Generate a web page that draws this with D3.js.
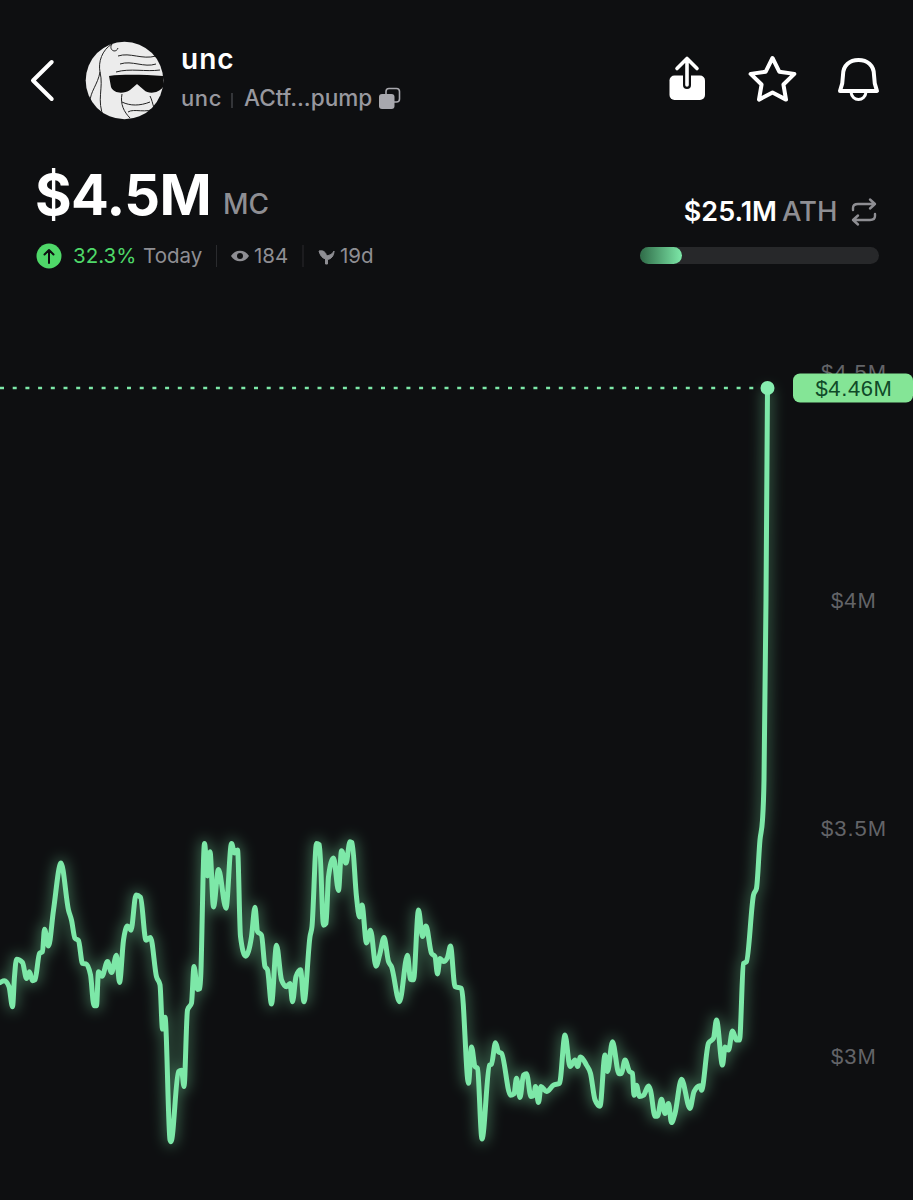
<!DOCTYPE html>
<html>
<head>
<meta charset="utf-8">
<title>unc</title>
<script src="https://cdn.jsdelivr.net/npm/d3@7"></script>
<style>
html, body { margin: 0; padding: 0; background: #0e0f11; }
svg { display: block; }
.ui { font-family: Inter, "Open Sans", sans-serif; }
.tick text { font-family: "Liberation Sans", Arial, sans-serif; letter-spacing: 1px; }
</style>
</head>
<body>
<svg id="chart" width="913" height="1200"></svg>
<script>
// minutes since the left edge of the chart
const minutes = [0,9,18,25,29,33,45,53,59,65,70,79,85,89,97,107,122,137,143,150,157,165,172,181,188,193,197,204,215,223,233,239,247,255,262,272,281,292,301,313,320,325,330,340,342,357,363,368,375,383,388,395,400,409,415,420,427,437,452,463,469,475,481,491,503,510,515,523,530,535,543,553,563,573,580,585,592,601,608,620,624,633,639,647,652,657,667,677,683,692,700,704,713,719,724,733,741,752,760,768,777,783,799,815,821,827,837,845,852,863,870,875,880,887,895,901,910,923,937,943,950,955,964,979,983,991,997,1003,1021,1028,1033,1040,1047,1053,1062,1068,1071,1077,1082,1093,1107,1119,1130,1140,1150,1155,1161,1173,1181,1190,1200,1210,1215,1225,1238,1243,1250,1259,1265,1268,1273,1279,1287,1297,1301,1310,1315,1323,1330,1337,1343,1350,1363,1380,1388,1400,1403,1417,1427,1433,1445,1450,1457,1465,1473,1479,1487,1493,1507,1513,1520,1525,1528,1532,1535];

// market cap in $M
const marketCap = [3.161,3.165,3.152,3.108,3.174,3.212,3.205,3.170,3.185,3.165,3.167,3.225,3.229,3.278,3.241,3.320,3.423,3.320,3.298,3.258,3.253,3.203,3.202,3.178,3.110,3.110,3.185,3.175,3.207,3.183,3.221,3.161,3.254,3.285,3.276,3.353,3.348,3.254,3.260,3.174,3.156,3.059,3.085,2.816,2.812,2.966,2.969,2.933,3.101,3.116,3.196,3.146,3.148,3.466,3.395,3.448,3.327,3.409,3.324,3.466,3.445,3.452,3.262,3.219,3.262,3.326,3.273,3.265,3.196,3.189,3.114,3.243,3.167,3.152,3.159,3.119,3.174,3.189,3.119,3.262,3.284,3.466,3.463,3.287,3.291,3.393,3.434,3.363,3.450,3.423,3.470,3.468,3.349,3.305,3.331,3.248,3.276,3.197,3.225,3.260,3.207,3.196,3.119,3.221,3.168,3.167,3.320,3.262,3.285,3.225,3.218,3.180,3.214,3.207,3.216,3.241,3.152,3.148,2.940,3.020,2.977,2.973,2.818,2.980,2.982,3.029,3.009,3.006,2.914,2.917,2.951,2.909,2.958,2.961,2.911,2.914,2.933,2.898,2.933,2.922,2.936,2.940,3.046,2.977,2.991,2.977,2.998,2.980,2.962,2.904,2.890,3.002,2.966,3.031,2.961,2.962,2.991,2.966,2.962,2.914,2.936,2.911,2.914,2.934,2.925,2.868,2.868,2.905,2.874,2.896,2.854,2.874,2.949,2.885,2.922,2.935,2.925,3.028,3.039,3.079,2.980,3.020,3.013,3.055,3.035,3.035,3.203,3.207,3.353,3.368,3.474,3.518,3.605,4.000,4.465];

const yTicks = [3, 3.5, 4, 4.5];
const currentLabel = "$4.46M";

const GREEN = "#7de8a8";
const GREY = "#8e8e93";

const svg = d3.select("#chart");
const defs = svg.append("defs");

defs.append("filter").attr("id", "glow")
    .attr("filterUnits", "userSpaceOnUse")
    .attr("x", -40).attr("y", 340).attr("width", 993).attr("height", 860)
    .append("feGaussianBlur").attr("stdDeviation", 7);

const barFill = defs.append("linearGradient").attr("id", "barFill");
barFill.append("stop").attr("offset", "0%").attr("stop-color", "#2f6b48");
barFill.append("stop").attr("offset", "100%").attr("stop-color", "#7de8a8");

defs.append("clipPath").attr("id", "avatarClip")
    .append("circle").attr("cx", 124.5).attr("cy", 80.5).attr("r", 38.8);

defs.append("filter").attr("id", "soft").append("feGaussianBlur").attr("stdDeviation", 0.5);

svg.append("rect").attr("width", 913).attr("height", 1200).attr("fill", "#0e0f11");

// chart
const x = d3.scaleLinear().domain([0, 1535]).range([0, 767.5]);
const y = d3.scaleLinear().domain([3, 4.5]).range([1056, 372]);

const yAxis = d3.axisRight(y)
    .tickValues(yTicks)
    .tickSize(0)
    .tickFormat(d => `$${d}M`);

const axisG = svg.append("g")
    .attr("transform", "translate(854,0)")
    .call(yAxis);
axisG.select(".domain").remove();
axisG.selectAll("text")
    .attr("x", 0)
    .attr("text-anchor", "middle")
    .attr("font-size", 22)
    .attr("fill", "#636468");

const points = minutes.map((m, i) => [m, marketCap[i]]);
const line = d3.line()
    .x(d => x(d[0]))
    .y(d => y(d[1]))
    .curve(d3.curveMonotoneX);

svg.append("path")
    .attr("d", line(points))
    .attr("fill", "none")
    .attr("stroke", GREEN)
    .attr("stroke-width", 10)
    .attr("opacity", 0.36)
    .attr("filter", "url(#glow)");

svg.append("path")
    .attr("d", line(points))
    .attr("fill", "none")
    .attr("stroke", GREEN)
    .attr("stroke-width", 5)
    .attr("stroke-linejoin", "round")
    .attr("stroke-linecap", "round");

const last = points[points.length - 1];

svg.append("line")
    .attr("x1", 0).attr("x2", x(last[0]))
    .attr("y1", y(last[1])).attr("y2", y(last[1]))
    .attr("stroke", GREEN)
    .attr("stroke-width", 2.4)
    .attr("stroke-dasharray", "4 8.7");

svg.append("circle")
    .attr("cx", x(last[0])).attr("cy", y(last[1])).attr("r", 7)
    .attr("fill", "#86eeb0");

svg.append("rect")
    .attr("x", 793).attr("y", 373.5).attr("width", 120).attr("height", 29).attr("rx", 7)
    .attr("fill", "#84e596");
svg.append("text")
    .attr("x", 854).attr("y", 396)
    .attr("text-anchor", "middle")
    .attr("font-family", "'Liberation Sans', Arial, sans-serif")
    .attr("font-size", 22)
    .attr("letter-spacing", 0.6)
    .attr("fill", "#0f4a28")
    .text(currentLabel);

// header
function label(str, px, py, size, weight, fill, anchor, spacing) {
    return svg.append("text")
        .attr("class", "ui")
        .attr("x", px).attr("y", py)
        .attr("font-size", size)
        .attr("font-weight", weight)
        .attr("fill", fill)
        .attr("text-anchor", anchor || "start")
        .attr("letter-spacing", spacing || 0)
        .text(str);
}

function icon(d, attrs) {
    const p = svg.append("path").attr("d", d);
    Object.entries(attrs).forEach(([k, v]) => p.attr(k, v));
    return p;
}

const whiteLine = { fill: "none", stroke: "#fff", "stroke-width": 4, "stroke-linecap": "round", "stroke-linejoin": "round" };

icon("M51.7 62L33 80.5L51.7 99", whiteLine);

// avatar
const avatar = svg.append("g").attr("clip-path", "url(#avatarClip)").attr("filter", "url(#soft)");
avatar.append("rect").attr("x", 85).attr("y", 41).attr("width", 80).attr("height", 80).attr("fill", "#ececec");
const sketch = [
    "M112 44C102 50 98 62 100 72C98 84 90 92 90 102",
    "M112 44C108 50 116 54 118 48",
    "M118 56C130 52 142 60 156 56",
    "M120 64C132 60 144 68 156 64",
    "M116 72C130 68 146 72 160 70",
    "M100 72C104 88 96 100 104 118",
    "M122 102C130 106 140 106 150 102",
    "M128 112C134 108 146 114 156 108",
    "M150 96C154 104 152 110 160 112",
    "M122 94C120 104 124 112 130 118"
];
avatar.selectAll("path.sketch").data(sketch).join("path")
    .attr("class", "sketch")
    .attr("d", d => d)
    .attr("fill", "none")
    .attr("stroke", "#222")
    .attr("stroke-width", 1);
avatar.append("path")
    .attr("d", "M109 76C125 74 145 75 163 76L163 87C158 94 148 94 144 90L137 84L130 90C124 94 114 94 111 87Z")
    .attr("fill", "#0b0b0b");

label("unc", 181, 69, 28, 600, "#fff", "start", 1);
label("unc", 181, 106, 22, 500, "#98989f", "start", 0.6);
svg.append("line").attr("x1", 232).attr("x2", 232).attr("y1", 93).attr("y2", 108).attr("stroke", "#4a4b4f").attr("stroke-width", 1.3);
label("ACtf...pump", 244, 106, 22.6, 500, "#98989f");

// copy icon
svg.append("rect").attr("x", 386).attr("y", 88.5).attr("width", 13.5).attr("height", 13.5).attr("rx", 3)
    .attr("fill", "none").attr("stroke", "#a8a8ae").attr("stroke-width", 1.6);
svg.append("rect").attr("x", 379).attr("y", 94).attr("width", 15.5).attr("height", 15).attr("rx", 3).attr("fill", "#a8a8ae");

label("$4.5M", 35, 215, 56, 700, "#fff", "start", -0.6);
label("MC", 223, 214, 28, 500, GREY);

svg.append("circle").attr("cx", 49).attr("cy", 256).attr("r", 12.5).attr("fill", "#4fd869");
icon("M49 263V250M44.5 254.5L49 250L53.5 254.5", { fill: "none", stroke: "#0e0f11", "stroke-width": 2, "stroke-linecap": "round", "stroke-linejoin": "round" });
label("32.3%", 73, 263, 20.5, 400, "#4fd869");
label("Today", 143, 263, 20.5, 400, GREY);
svg.append("line").attr("x1", 216.5).attr("x2", 216.5).attr("y1", 245).attr("y2", 267).attr("stroke", "#2a2b2e").attr("stroke-width", 1);

// eye
icon("M231 256C235 249 245 249 249 256C245 263 235 263 231 256Z", { fill: GREY });
svg.append("circle").attr("cx", 240).attr("cy", 256).attr("r", 3).attr("fill", "#0e0f11");
label("184", 254, 263, 20.5, 400, GREY);
svg.append("line").attr("x1", 303).attr("x2", 303).attr("y1", 245).attr("y2", 267).attr("stroke", "#2a2b2e").attr("stroke-width", 1);

// sprout
icon("M319 251C323 250 326 252 326.5 256C331 255 333 253 334 251C334 256 331 259 327.5 259.5V264H325.5V259C322 258 320 255 319 251Z", { fill: GREY, stroke: GREY, "stroke-width": 1, "stroke-linejoin": "round" });
label("19d", 340, 263, 20.5, 400, GREY);

// share icon
svg.append("rect").attr("x", 669.5).attr("y", 75.5).attr("width", 35.5).attr("height", 24.5).attr("rx", 5).attr("fill", "#fff");
icon("M687 60V85", { fill: "none", stroke: "#0e0f11", "stroke-width": 8, "stroke-linecap": "round" });
icon("M687 59V85M677 68.5L687 58.5L697 68.5", { fill: "none", stroke: "#fff", "stroke-width": 3.6, "stroke-linecap": "round", "stroke-linejoin": "round" });

// star
const starPoints = d3.range(10).map(i => {
    const a = -Math.PI / 2 + i * Math.PI / 5;
    const r = i % 2 ? 11.5 : 23;
    return [772.5 + r * Math.cos(a), 81 + r * Math.sin(a)];
});
svg.append("path")
    .attr("d", d3.line()(starPoints) + "Z")
    .attr("fill", "none").attr("stroke", "#fff").attr("stroke-width", 4).attr("stroke-linejoin", "round");

// bell
icon("M840 91C842 86 843 82 843 75C843 65 850 60 858.5 60C867 60 874 65 874 75C874 82 875 86 877 91Z", whiteLine);
icon("M851 92C852 102 865 102 866 92", { fill: "none", stroke: "#fff", "stroke-width": 3, "stroke-linecap": "round" });

label("$25.1M", 777, 221, 27, 600, "#fff", "end");
label("ATH", 782, 221, 27.5, 500, GREY);
const swap = { fill: "none", stroke: GREY, "stroke-width": 2.4, "stroke-linecap": "round", "stroke-linejoin": "round" };
icon("M853 210V208C853 205 855 204 858 204H875M870 199.5L875 204L870 208.5", swap);
icon("M875 214V216C875 219 873 220 870 220H853M858 215.5L853 220L858 224.5", swap);

svg.append("rect").attr("x", 640).attr("y", 247).attr("width", 239).attr("height", 17).attr("rx", 8.5).attr("fill", "#27282a");
svg.append("rect").attr("x", 640).attr("y", 247).attr("width", 42).attr("height", 17).attr("rx", 8.5).attr("fill", "url(#barFill)");
</script>
</body>
</html>
